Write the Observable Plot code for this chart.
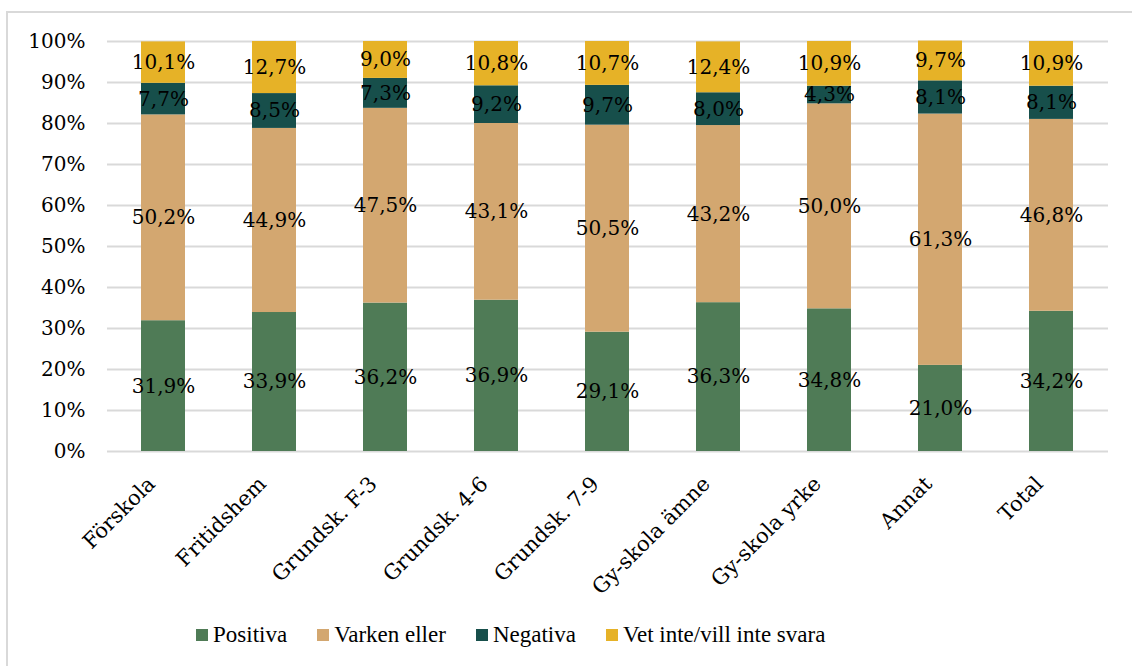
<!DOCTYPE html>
<html>
<head>
<meta charset="utf-8">
<script src="https://cdn.jsdelivr.net/npm/d3@7"></script>
<script src="https://cdn.jsdelivr.net/npm/@observablehq/plot@0.6"></script>
<style>
  html, body { margin: 0; padding: 0; background: #fff; overflow: hidden; }
  body { width: 1132px; height: 666px; position: relative; }
  #frame { position: absolute; left: 6px; top: 11px; width: 1200px; height: 700px;
           border-left: 2px solid #d9d9d9; border-top: 2px solid #d9d9d9; }
  #chart { position: absolute; left: 0; top: 0; }
  #legend { position: absolute; left: 196px; top: 622px; display: flex; align-items: center;
            font-family: "Liberation Serif", serif; font-size: 23px; color: #000; }
  .item { display: flex; align-items: center; margin-right: 30px; }
  .sw { width: 12px; height: 12px; margin-right: 5px; }
</style>
</head>
<body>
<div id="frame"></div>
<div id="chart"></div>
<div id="legend"></div>
<script>
const categories = ["Förskola", "Fritidshem", "Grundsk. F-3", "Grundsk. 4-6", "Grundsk. 7-9", "Gy-skola ämne", "Gy-skola yrke", "Annat", "Total"];
const seriesNames = ["Positiva", "Varken eller", "Negativa", "Vet inte/vill inte svara"];
const positiva = [31.9, 33.9, 36.2, 36.9, 29.1, 36.3, 34.8, 21.0, 34.2];
const varken   = [50.2, 44.9, 47.5, 43.1, 50.5, 43.2, 50.0, 61.3, 46.8];
const negativa = [7.7, 8.5, 7.3, 9.2, 9.7, 8.0, 4.3, 8.1, 8.1];
const vetInte  = [10.1, 12.7, 9.0, 10.8, 10.7, 12.4, 10.9, 9.7, 10.9];
const yTicks = [0, 10, 20, 30, 40, 50, 60, 70, 80, 90, 100];
const colors = ["#4f7b56", "#d3a770", "#174f4b", "#e6b227"];

const seriesValues = [positiva, varken, negativa, vetInte];
const data = [];
seriesNames.forEach((s, si) => {
  categories.forEach((c, ci) => {
    data.push({cat: c, series: s, value: seriesValues[si][ci]});
  });
});
const fmt = v => v.toFixed(1).replace(".", ",") + "%";
const serif = '"DejaVu Serif", serif';

const chart = Plot.plot({
  width: 1132,
  height: 560,
  marginLeft: 107,
  marginRight: 24,
  marginTop: 41,
  marginBottom: 109,
  style: {fontFamily: serif, fontSize: "20px", background: "transparent", overflow: "visible"},
  x: {domain: categories, paddingInner: 0.6, paddingOuter: 0.3, label: null, axis: null},
  y: {domain: [0, 100], label: null},
  color: {domain: seriesNames, range: colors},
  marks: [
    Plot.ruleY(yTicks, {stroke: "#d9d9d9", strokeWidth: 2}),
    Plot.barY(data, {x: "cat", y: "value", fill: "series", order: seriesNames}),
    Plot.text(data, Plot.stackY({x: "cat", y: "value", z: "series", order: seriesNames,
      text: d => fmt(d.value), fill: "#000", fontSize: 20, fontFamily: serif})),
    Plot.axisY(yTicks, {tickSize: 0, tickPadding: 22, tickFormat: d => d + "%",
      fontSize: 20, fontFamily: serif, fill: "#000"}),
    Plot.text(categories, {x: d => d, frameAnchor: "bottom", rotate: -45, textAnchor: "end",
      lineAnchor: "middle", dx: -12, dy: 29, fontSize: 21, fontFamily: serif, fill: "#000"})
  ]
});
document.getElementById("chart").appendChild(chart);

const legend = document.getElementById("legend");
seriesNames.forEach((s, i) => {
  const it = document.createElement("div");
  it.className = "item";
  const sw = document.createElement("div");
  sw.className = "sw";
  sw.style.background = colors[i];
  const t = document.createElement("span");
  t.textContent = s;
  it.appendChild(sw); it.appendChild(t);
  legend.appendChild(it);
});
</script>
</body>
</html>
